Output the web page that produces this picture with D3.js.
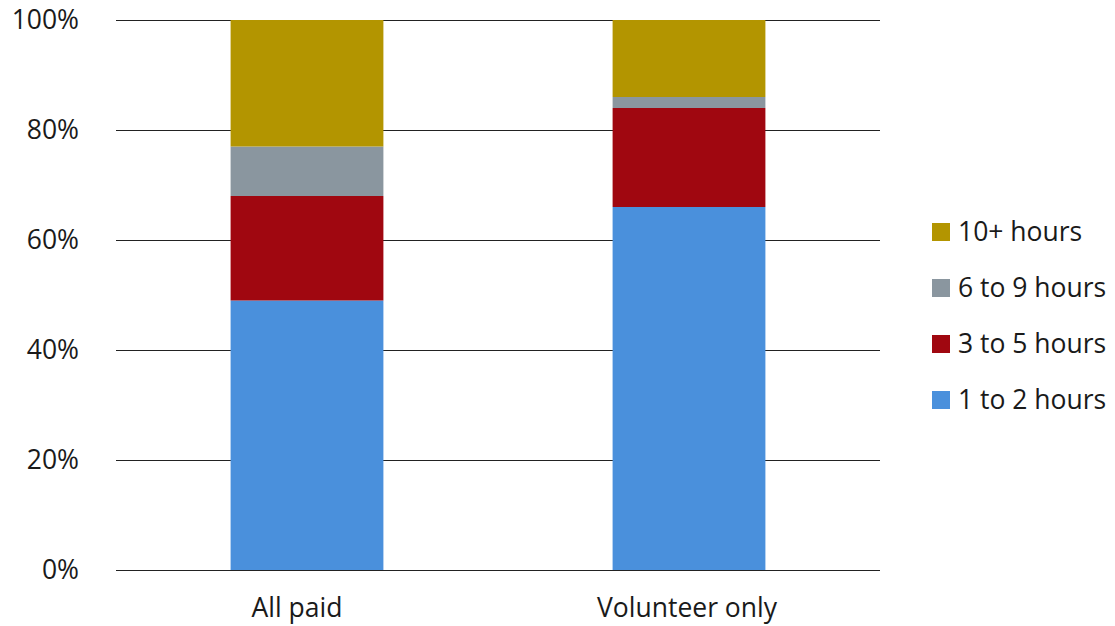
<!DOCTYPE html>
<html><head><meta charset="utf-8">
<script src="https://cdn.jsdelivr.net/npm/d3@7"></script>
<style>body{margin:0;background:#fff}svg{display:block}text{font-family:"Open Sans",sans-serif;fill:#1a1a1a}</style>
</head><body>
<svg id="c" width="1115" height="626"></svg>
<script>
const categories = ["All paid", "Volunteer only"];
const seriesNames = ["1 to 2 hours", "3 to 5 hours", "6 to 9 hours", "10+ hours"];
const oneToTwo = [49, 66];
const threeToFive = [19, 18];
const sixToNine = [9, 2];
const tenPlus = [23, 14];
const yTicks = [0, 20, 40, 60, 80, 100];
const colors = ["#4a90dc", "#a00710", "#8a969f", "#b39500"];

const svg = d3.select("#c");
const m = {l:116, r:1115-880, t:20, b:626-570};
const W = 1115 - m.l - m.r, H = 626 - m.t - m.b;
const g = svg.append("g").attr("transform", `translate(${m.l},${m.t})`);

const x = d3.scaleBand().domain(categories).range([0, W]).paddingInner(0.6).paddingOuter(0.3);
const y = d3.scaleLinear().domain([0, 100]).range([H, 0]);

// grid
g.append("g").selectAll("line").data(yTicks).join("line")
  .attr("x1", 0).attr("x2", W).attr("y1", d => Math.round(y(d)) + 0.5).attr("y2", d => Math.round(y(d)) + 0.5)
  .attr("stroke", "#222").attr("stroke-width", 1);

const table = categories.map((c, i) => ({cat: c, "1 to 2 hours": oneToTwo[i], "3 to 5 hours": threeToFive[i], "6 to 9 hours": sixToNine[i], "10+ hours": tenPlus[i]}));
const stacked = d3.stack().keys(seriesNames)(table);

g.append("g").selectAll("g").data(stacked).join("g").attr("fill", (d, i) => colors[i])
  .selectAll("rect").data(d => d).join("rect")
  .attr("x", d => x(d.data.cat)).attr("width", x.bandwidth())
  .attr("y", d => y(d[1])).attr("height", d => y(d[0]) - y(d[1]));

const FS = "26.5px";
// y axis labels
const yAxis = d3.axisLeft(y).tickValues(yTicks).tickFormat(d => d + "%").tickSize(0).tickPadding(37);
const ya = g.append("g").call(yAxis);
ya.select(".domain").remove();
ya.selectAll("text").style("font-size", FS).style("font-family", "Open Sans").attr("fill", "#1a1a1a");

// x axis labels
const xAxis = d3.axisBottom(x).tickSize(0).tickPadding(28);
const xa = g.append("g").attr("transform", `translate(0,${H})`).call(xAxis);
xa.select(".domain").remove();
xa.selectAll("text").style("font-size", FS).style("font-family", "Open Sans").attr("fill", "#1a1a1a")
  .attr("dx", (d, i) => i === 0 ? -10 : -2);

// legend
const legendOrder = [3, 2, 1, 0];
const lg = svg.append("g").attr("transform", "translate(932,232)");
const item = lg.selectAll("g").data(legendOrder).join("g").attr("transform", (d, i) => `translate(0,${i * 56})`);
item.append("rect").attr("x", 0).attr("y", -9).attr("width", 18).attr("height", 18).attr("fill", d => colors[d]);
item.append("text").attr("x", 26).attr("y", 0).attr("dy", "0.35em").style("font-size", FS).text(d => seriesNames[d]);
</script>
</body></html>
